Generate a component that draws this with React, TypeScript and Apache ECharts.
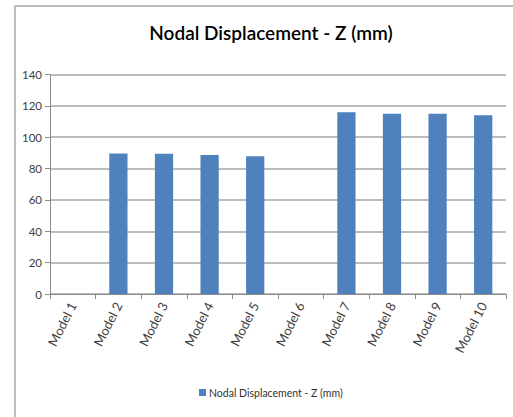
import React, { useEffect, useRef } from "react";
import * as echarts from "echarts";

const categories = ["Model 1", "Model 2", "Model 3", "Model 4", "Model 5", "Model 6", "Model 7", "Model 8", "Model 9", "Model 10"];
const values: (number | null)[] = [null, 89.6, 89.5, 88.6, 87.8, null, 116, 115, 115, 114];
const seriesName = "Nodal Displacement - Z (mm)";
const titleText = "Nodal Displacement - Z (mm)";

const FONT = "Lato, 'Open Sans', sans-serif";

export default function App() {
  const ref = useRef<HTMLDivElement>(null);
  useEffect(() => {
    if (!ref.current) return;
    const chart = echarts.init(ref.current, null, { renderer: "svg" });
    chart.setOption({
      animation: false,
      backgroundColor: "#ffffff",
      graphic: [
        {
          type: "rect",
          shape: { x: 15, y: 6, width: 520, height: 430 },
          style: { fill: "none", stroke: "#a6a6a6", lineWidth: 1.5 },
          z: 0,
        },
      ],
      title: {
        text: titleText,
        left: 266,
        textAlign: "center",
        top: 18,
        textStyle: { fontFamily: FONT, fontSize: 19, fontWeight: 600, color: "#000" },
      },
      legend: {
        data: [seriesName],
        left: 194,
        top: 382,
        icon: "rect",
        itemWidth: 7,
        itemHeight: 7,
        itemGap: 4,
        textStyle: { fontFamily: FONT, fontSize: 10.5, color: "#333", padding: [0, 0, 0, -2] },
      },
      grid: { left: 50, right: 7, top: 74.5, bottom: 123, containLabel: false },
      xAxis: {
        type: "category",
        data: categories,
        axisLine: { lineStyle: { color: "#8c8c8c", width: 1 } },
        axisTick: { show: true, alignWithLabel: false, length: 5, lineStyle: { color: "#8c8c8c" } },
        axisLabel: { rotate: 63, fontFamily: FONT, fontSize: 13, color: "#404040", margin: 9, interval: 0 },
      },
      yAxis: {
        type: "value",
        min: 0,
        max: 140,
        interval: 20,
        axisLine: { show: true, lineStyle: { color: "#8c8c8c", width: 1 } },
        axisTick: { show: true, length: 5, lineStyle: { color: "#8c8c8c" } },
        axisLabel: { fontFamily: FONT, fontSize: 11.5, color: "#404040", margin: 8 },
        splitLine: { lineStyle: { color: "#a6a6a6", width: 1.5 } },
      },
      series: [
        {
          name: seriesName,
          type: "bar",
          data: values,
          barWidth: "40%",
          itemStyle: { color: "#4F81BD" },
        },
      ],
    });
    return () => chart.dispose();
  }, []);
  return <div ref={ref} style={{ position: "absolute", left: 0, top: 0, width: 513, height: 417 }} />;
}
